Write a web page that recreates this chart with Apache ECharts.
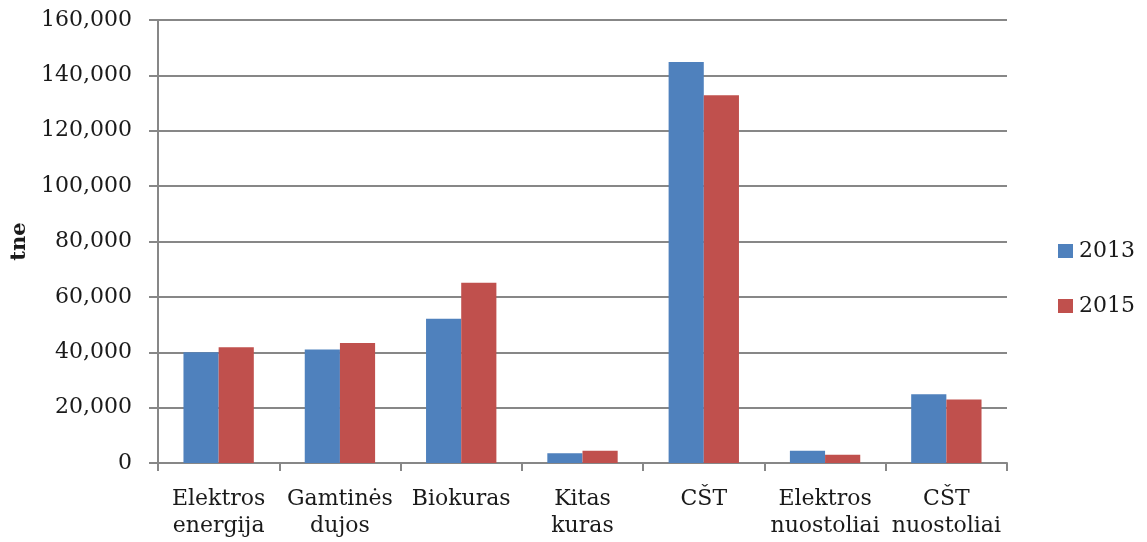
<!DOCTYPE html>
<html>
<head>
<meta charset="utf-8">
<script src="https://cdn.jsdelivr.net/npm/echarts@6/dist/echarts.min.js"></script>
<style>
  html, body { margin: 0; padding: 0; background: #ffffff; }
  #chart { width: 1147px; height: 542px; }
</style>
</head>
<body>
<div id="chart"></div>
<script>
// Energy consumption by source, tne
const categories = ['Elektros\nenergija', 'Gamtinės\ndujos', 'Biokuras', 'Kitas\nkuras', 'CŠT', 'Elektros\nnuostoliai', 'CŠT\nnuostoliai'];
const values2013 = [40000, 41000, 52100, 3500, 144800, 4400, 24800];
const values2015 = [41800, 43300, 65100, 4400, 132800, 3000, 22900];
const seriesNames = ['2013', '2015'];
const yTicks = { min: 0, max: 160000, interval: 20000 };

const axisGray = '#878787';
const textColor = '#1a1a1a';
const chart = echarts.init(document.getElementById('chart'), null, { renderer: 'canvas' });

chart.setOption({
  animation: false,
  backgroundColor: '#ffffff',
  grid: { left: 158, right: 140, top: 20, bottom: 79, containLabel: false, outerBoundsMode: 'none' },
  legend: {
    orient: 'vertical',
    left: 1058,
    top: 240,
    padding: 0,
    itemWidth: 15,
    itemHeight: 14,
    itemGap: 33,
    icon: 'rect',
    textStyle: { fontFamily: 'DejaVu Serif', fontSize: 22, color: textColor, padding: [0, 0, 0, 1] },
    data: seriesNames
  },
  xAxis: {
    type: 'category',
    data: categories,
    axisLine: { lineStyle: { color: axisGray, width: 2 } },
    axisTick: { show: true, length: 8, alignWithLabel: false, lineStyle: { color: axisGray, width: 2 } },
    axisLabel: {
      interval: 0,
      margin: 23,
      fontFamily: 'DejaVu Serif',
      fontSize: 22,
      lineHeight: 27,
      color: textColor
    }
  },
  yAxis: {
    type: 'value',
    min: yTicks.min,
    max: yTicks.max,
    interval: yTicks.interval,
    name: 'tne',
    nameLocation: 'middle',
    nameRotate: 90,
    nameGap: 128,
    nameTextStyle: { fontFamily: 'DejaVu Serif', fontWeight: 'bold', fontSize: 21, color: textColor },
    axisLine: { show: true, lineStyle: { color: axisGray, width: 2 } },
    axisTick: { show: true, length: 9, lineStyle: { color: axisGray, width: 2 } },
    splitLine: { show: true, lineStyle: { color: axisGray, width: 2 } },
    axisLabel: {
      margin: 26,
      fontFamily: 'DejaVu Serif',
      fontSize: 22,
      color: textColor,
      formatter: v => v.toLocaleString('en-US')
    }
  },
  series: [
    {
      name: seriesNames[0],
      type: 'bar',
      data: values2013,
      itemStyle: { color: '#4F81BD' },
      barGap: '0%',
      barCategoryGap: '42%'
    },
    {
      name: seriesNames[1],
      type: 'bar',
      data: values2015,
      itemStyle: { color: '#C0504D' },
      barGap: '0%',
      barCategoryGap: '42%'
    }
  ]
});
</script>
</body>
</html>
